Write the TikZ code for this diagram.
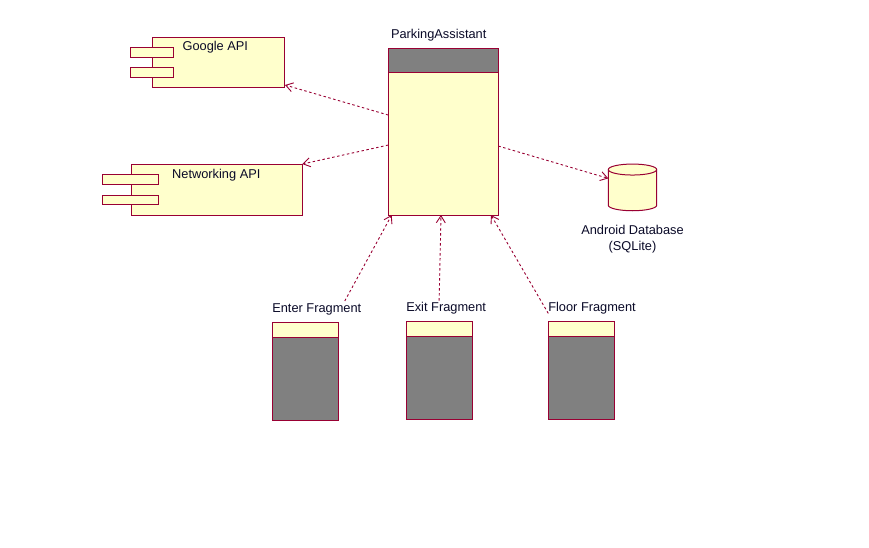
\documentclass[tikz,border=0pt]{standalone}
\usepackage{fontspec}
\setmainfont{Liberation Sans}
\usetikzlibrary{arrows.meta,calc}
\definecolor{rose}{HTML}{990033}
\definecolor{pale}{HTML}{FFFFCC}
\definecolor{midgray}{HTML}{808080}
\definecolor{ink}{HTML}{0A0A28}
\begin{document}
\begin{tikzpicture}[x=1pt,y=-1pt,
  box/.style={rectangle,draw=rose,fill=pale,line width=1pt,inner sep=0pt,outer sep=0pt},
  frag/.style={box,fill=midgray,minimum width=66pt,minimum height=98pt},
  tab/.style={box},
  txt/.style={font=\fontsize{12.8}{16}\selectfont,text=ink,inner sep=0pt,outer sep=0pt},
  dep/.style={draw=rose,line width=0.9pt,dash pattern=on 2.5pt off 2.5pt,
    -{Straight Barb[length=7pt,width=9pt]}}]

\useasboundingbox[fill=white] (0,0) rectangle (869,548);

% Google API component
\node[box,minimum width=132pt,minimum height=50pt] (g) at (218.3,62.3) {};
\node[tab,minimum width=43pt,minimum height=10pt] (gt1) at (151.8,52.3) {};
\node[tab,minimum width=43pt,minimum height=10pt] (gt2) at (151.8,72.3) {};
\node[txt,anchor=base] (gl) at ([xshift=-3pt,yshift=-13.6pt]g.north) {Google API};

% Networking API component
\node[box,minimum width=171pt,minimum height=51.7pt] (n) at (216.8,189.9) {};
\node[tab,minimum width=56pt,minimum height=9.5pt] (nt1) at (130.3,179.6) {};
\node[tab,minimum width=56pt,minimum height=9.5pt] (nt2) at (130.3,200.1) {};
\node[txt,anchor=base] (nl) at ([xshift=-0.5pt,yshift=-14.2pt]n.north) {Networking API};

% ParkingAssistant
\node[box,minimum width=110pt,minimum height=166.7pt] (pa) at (443.3,131.65) {};
\draw[draw=rose,fill=midgray,line width=1pt] (pa.north west) rectangle ([yshift=-24pt]pa.north east);
\node[txt,anchor=base] (pal) at ([xshift=-4.6pt,yshift=9.3pt]pa.north) {ParkingAssistant};

% Database
\node[minimum width=48.4pt,minimum height=46.7pt,inner sep=0pt,outer sep=0pt] (db) at (632.5,187.4) {};
\draw[draw=rose,fill=pale,line width=1pt]
  ([yshift=-5.5pt]db.north west) -- ([yshift=5.5pt]db.south west)
  arc[start angle=180,end angle=360,x radius=24.2pt,y radius=5.5pt]
  -- ([yshift=-5.5pt]db.north east)
  arc[start angle=0,end angle=180,x radius=24.2pt,y radius=5.5pt] -- cycle;
\draw[draw=rose,line width=1pt] ([yshift=-5.5pt]db.north west)
  arc[start angle=180,end angle=360,x radius=24.2pt,y radius=5.5pt];
\node[txt,align=center,anchor=base] (dbl) at ([yshift=-39.5pt]db.south)
  {Android Database\\(SQLite)};

% Fragments
\node[frag] (ef) at (305.3,371.3) {};
\draw[draw=rose,fill=pale,line width=1pt] (ef.north west) rectangle ([yshift=-15pt]ef.north east);
\node[txt,anchor=base west] (efl) at ([yshift=9.5pt]ef.north west) {Enter Fragment};

\node[frag] (xf) at (439.3,370.3) {};
\draw[draw=rose,fill=pale,line width=1pt] (xf.north west) rectangle ([yshift=-15pt]xf.north east);
\node[txt,anchor=base west] (xfl) at ([yshift=9.5pt]xf.north west) {Exit Fragment};

\node[frag] (ff) at (581.3,370.3) {};
\draw[draw=rose,fill=pale,line width=1pt] (ff.north west) rectangle ([yshift=-15pt]ff.north east);
\node[txt,anchor=base west] (ffl) at ([yshift=9.5pt]ff.north west) {Floor Fragment};

% Dependencies
\draw[dep] ([yshift=16.6pt]pa.west) -- ([xshift=0.7pt,yshift=2.3pt]g.south east);
\draw[dep] ([yshift=-13.4pt]pa.west) -- (n.north east);
\draw[dep] ([yshift=-14.4pt]pa.east) -- ([yshift=9pt]db.west);
\draw[dep] ([xshift=28pt,yshift=3pt]efl.north) -- ([xshift=3.4pt]pa.south west);
\draw[dep] ([xshift=-7pt,yshift=2pt]xfl.north) -- ([xshift=-2.3pt]pa.south);
\draw[dep] ([yshift=1pt]ffl.south west) -- ([xshift=-7.3pt]pa.south east);
\end{tikzpicture}
\end{document}
